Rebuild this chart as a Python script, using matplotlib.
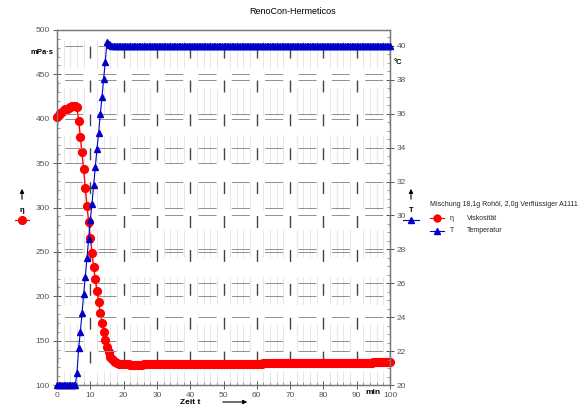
import matplotlib
matplotlib.use('Agg')
import matplotlib.pyplot as plt
from matplotlib.lines import Line2D
from matplotlib.ticker import MultipleLocator

plt.rcParams['font.family'] = ['Liberation Sans', 'DejaVu Sans']
plt.rcParams['lines.scale_dashes'] = False

# time in min, one reading every 0.5 min
t_min = [0, 0.5, 1, 1.5, 2, 2.5, 3, 3.5, 4, 4.5, 5, 5.5, 6, 6.5, 7, 7.5, 8, 8.5, 9, 9.5,
         10, 10.5, 11, 11.5, 12, 12.5, 13, 13.5, 14, 14.5, 15, 15.5, 16, 16.5, 17, 17.5, 18, 18.5, 19, 19.5,
         20, 20.5, 21, 21.5, 22, 22.5, 23, 23.5, 24, 24.5, 25, 25.5, 26, 26.5, 27, 27.5, 28, 28.5, 29, 29.5,
         30, 30.5, 31, 31.5, 32, 32.5, 33, 33.5, 34, 34.5, 35, 35.5, 36, 36.5, 37, 37.5, 38, 38.5, 39, 39.5,
         40, 40.5, 41, 41.5, 42, 42.5, 43, 43.5, 44, 44.5, 45, 45.5, 46, 46.5, 47, 47.5, 48, 48.5, 49, 49.5,
         50, 50.5, 51, 51.5, 52, 52.5, 53, 53.5, 54, 54.5, 55, 55.5, 56, 56.5, 57, 57.5, 58, 58.5, 59, 59.5,
         60, 60.5, 61, 61.5, 62, 62.5, 63, 63.5, 64, 64.5, 65, 65.5, 66, 66.5, 67, 67.5, 68, 68.5, 69, 69.5,
         70, 70.5, 71, 71.5, 72, 72.5, 73, 73.5, 74, 74.5, 75, 75.5, 76, 76.5, 77, 77.5, 78, 78.5, 79, 79.5,
         80, 80.5, 81, 81.5, 82, 82.5, 83, 83.5, 84, 84.5, 85, 85.5, 86, 86.5, 87, 87.5, 88, 88.5, 89, 89.5,
         90, 90.5, 91, 91.5, 92, 92.5, 93, 93.5, 94, 94.5, 95, 95.5, 96, 96.5, 97, 97.5, 98, 98.5, 99, 99.5,
         100]

# viscosity eta in mPa s
eta = [402, 404.5, 406.5, 408, 409.5, 410.5, 411.5, 412.5, 413.5, 414, 414.5, 414.5, 413, 398, 380, 362, 343, 322, 302, 284,
       266, 249, 233, 219, 206, 194, 181, 170, 160, 151, 143, 137, 132, 129, 127, 125.5, 124.5, 124.1, 123.8, 123.6,
       123.4, 123.3, 123.2, 123.1, 123.0, 123.0, 123.0, 123.0, 123.0, 123.0, 123.0, 123.0, 123.1, 123.1, 123.1, 123.1, 123.1, 123.1, 123.2, 123.2,
       123.2, 123.2, 123.2, 123.2, 123.3, 123.3, 123.3, 123.3, 123.3, 123.3, 123.4, 123.4, 123.4, 123.4, 123.4, 123.4, 123.5, 123.5, 123.5, 123.5,
       123.5, 123.5, 123.6, 123.6, 123.6, 123.6, 123.6, 123.6, 123.7, 123.7, 123.7, 123.7, 123.7, 123.7, 123.8, 123.8, 123.8, 123.8, 123.8, 123.8,
       123.9, 123.9, 123.9, 123.9, 123.9, 123.9, 124.0, 124.0, 124.0, 124.0, 124.0, 124.0, 124.1, 124.1, 124.1, 124.1, 124.1, 124.1, 124.2, 124.2,
       124.2, 124.2, 124.2, 124.2, 124.3, 124.3, 124.3, 124.3, 124.3, 124.3, 124.4, 124.4, 124.4, 124.4, 124.4, 124.4, 124.5, 124.5, 124.5, 124.5,
       124.5, 124.5, 124.6, 124.6, 124.6, 124.6, 124.6, 124.6, 124.7, 124.7, 124.7, 124.7, 124.7, 124.7, 124.8, 124.8, 124.8, 124.8, 124.8, 124.8,
       124.9, 124.9, 124.9, 124.9, 124.9, 124.9, 125.0, 125.0, 125.0, 125.0, 125.0, 125.0, 125.1, 125.1, 125.1, 125.1, 125.1, 125.1, 125.2, 125.2,
       125.2, 125.2, 125.2, 125.2, 125.3, 125.3, 125.3, 125.3, 125.3, 125.3, 125.4, 125.4, 125.4, 125.4, 125.4, 125.4, 125.5, 125.5, 125.5, 125.5,
       125.6]

# temperature T in degC
temp = [20.0, 20.0, 20.0, 20.0, 20.0, 20.0, 20.0, 20.0, 20.0, 20.0, 20.0, 20.0, 20.71, 22.18, 23.11, 24.24, 25.34, 26.39, 27.49, 28.59,
        29.74, 30.68, 31.78, 32.83, 33.93, 34.87, 35.97, 36.96, 38.06, 39.06, 40.26, 40.12, 40.05, 40.02, 40.0, 40.0, 40.0, 40.0, 40.0, 40.0,
        40.0, 40.0, 40.0, 40.0, 40.0, 40.0, 40.0, 40.0, 40.0, 40.0, 40.0, 40.0, 40.0, 40.0, 40.0, 40.0, 40.0, 40.0, 40.0, 40.0,
        40.0, 40.0, 40.0, 40.0, 40.0, 40.0, 40.0, 40.0, 40.0, 40.0, 40.0, 40.0, 40.0, 40.0, 40.0, 40.0, 40.0, 40.0, 40.0, 40.0,
        40.0, 40.0, 40.0, 40.0, 40.0, 40.0, 40.0, 40.0, 40.0, 40.0, 40.0, 40.0, 40.0, 40.0, 40.0, 40.0, 40.0, 40.0, 40.0, 40.0,
        40.0, 40.0, 40.0, 40.0, 40.0, 40.0, 40.0, 40.0, 40.0, 40.0, 40.0, 40.0, 40.0, 40.0, 40.0, 40.0, 40.0, 40.0, 40.0, 40.0,
        40.0, 40.0, 40.0, 40.0, 40.0, 40.0, 40.0, 40.0, 40.0, 40.0, 40.0, 40.0, 40.0, 40.0, 40.0, 40.0, 40.0, 40.0, 40.0, 40.0,
        40.0, 40.0, 40.0, 40.0, 40.0, 40.0, 40.0, 40.0, 40.0, 40.0, 40.0, 40.0, 40.0, 40.0, 40.0, 40.0, 40.0, 40.0, 40.0, 40.0,
        40.0, 40.0, 40.0, 40.0, 40.0, 40.0, 40.0, 40.0, 40.0, 40.0, 40.0, 40.0, 40.0, 40.0, 40.0, 40.0, 40.0, 40.0, 40.0, 40.0,
        40.0, 40.0, 40.0, 40.0, 40.0, 40.0, 40.0, 40.0, 40.0, 40.0, 40.0, 40.0, 40.0, 40.0, 40.0, 40.0, 40.0, 40.0, 40.0, 40.0,
        40.0]

RED = '#ff0000'
BLUE = '#0000c8'
TICKC = '#555555'
W, H = 584, 407

fig = plt.figure(figsize=(5.84, 4.07), dpi=100)
ax = fig.add_axes([57 / W, 22 / H, 333 / W, 355 / H])
ax2 = ax.twinx()

ax.set_xlim(0, 100)
ax.set_ylim(100, 500)
ax2.set_ylim(20, 40.94)

# grid: horizontal dashes with gaps around the 10-min verticals
hdash = (18.5, (13, 11))
vdash = (8.6, (8.6, 15.8))
ax.set_axisbelow(True)
ax.xaxis.set_major_locator(MultipleLocator(10))
ax.xaxis.set_minor_locator(MultipleLocator(2))
ax.yaxis.set_major_locator(MultipleLocator(50))
ax.yaxis.set_minor_locator(MultipleLocator(10))
ax2.yaxis.set_major_locator(MultipleLocator(2))
ax2.yaxis.set_minor_locator(MultipleLocator(0.5))
ax.xaxis.grid(True, which='minor', color='#e2e2e2', lw=0.6, linestyle=(10, (20, 14)))
ax.xaxis.grid(True, which='major', color='#444444', lw=1.0, linestyle=vdash)
ax.yaxis.grid(True, which='major', color='#8f8f8f', lw=0.7, linestyle=hdash)
ax2.set_axisbelow(True)
ax2.yaxis.grid(True, which='major', color='#8f8f8f', lw=0.7, linestyle=hdash)

ax.plot(t_min, eta, color=RED, lw=1.0, marker='o', ms=5.6, mec=RED, mfc=RED,
        clip_on=False, zorder=3, snap=False)
ax2.plot(t_min, temp, color=BLUE, lw=0.8, marker='^', ms=4.2, mec=BLUE, mfc=BLUE,
         clip_on=False, zorder=3, snap=False)

for a in (ax, ax2):
    for s in a.spines.values():
        s.set_color('#777777')
        s.set_linewidth(0.9)
    a.tick_params(which='major', direction='inout', length=6, width=0.7, colors='#555555',
                  labelsize=6, labelcolor=TICKC, pad=2)
    a.tick_params(which='minor', direction='in', length=2.5, width=0.5, colors='#777777')

# axis annotations
fig.text(42 / W, 1 - 52 / H, 'mPa·s', fontsize=5.5, fontweight='bold', ha='center', va='center')
fig.text(398 / W, 1 - 63 / H, '°C', fontsize=5.5, fontweight='bold', ha='center', va='center')
fig.text(373 / W, 1 - 393 / H, 'min', fontsize=6, fontweight='bold', ha='center', va='center')
fig.text(190 / W, 1 - 402 / H, 'Zeit t', fontsize=6, fontweight='bold', ha='center', va='center')
fig.text(293 / W, 1 - 12 / H, 'RenoCon-Hermeticos', fontsize=6.5, ha='center', va='center')

arr = dict(arrowstyle='-|>', color='k', lw=0.8, mutation_scale=6)
ax.annotate('', xy=(250 / W, 1 - 402 / H), xytext=(220 / W, 1 - 402 / H),
            xycoords='figure fraction', textcoords='figure fraction', arrowprops=arr)
ax.annotate('', xy=(22 / W, 1 - 186 / H), xytext=(22 / W, 1 - 202 / H),
            xycoords='figure fraction', textcoords='figure fraction', arrowprops=arr)
ax.annotate('', xy=(411 / W, 1 - 186 / H), xytext=(411 / W, 1 - 202 / H),
            xycoords='figure fraction', textcoords='figure fraction', arrowprops=arr)
fig.text(22 / W, 1 - 211 / H, 'η', fontsize=5.5, fontweight='bold', ha='center', va='center')
fig.text(411 / W, 1 - 211 / H, 'T', fontsize=5.5, fontweight='bold', ha='center', va='center')


def key(x, y, color, marker, ms, half=7):
    fx, fy = x / W, 1 - y / H
    fig.add_artist(Line2D([fx - half / W, fx + half / W], [fy, fy], color=color, lw=0.8,
                          transform=fig.transFigure))
    fig.add_artist(Line2D([fx], [fy], color=color, marker=marker, ms=ms, mec=color,
                          mfc=color, transform=fig.transFigure))


key(22, 220, RED, 'o', 5.6)
key(411, 220, BLUE, '^', 4.2, half=8)

# legend block
fig.text(430 / W, 1 - 205 / H, 'Mischung 18,1g Rohöl, 2,0g Verflüssiger A1111', fontsize=5,
         ha='left', va='center', color='#222222')
key(437, 218, RED, 'o', 5.0)
key(437, 231, BLUE, '^', 4.0)
fig.text(452 / W, 1 - 218 / H, 'η', fontsize=5, ha='center', va='center', color='#222222')
fig.text(452 / W, 1 - 231 / H, 'T', fontsize=5, ha='center', va='center', color='#222222')
fig.text(467 / W, 1 - 218 / H, 'Viskosität', fontsize=5, ha='left', va='center', color='#222222')
fig.text(467 / W, 1 - 231 / H, 'Temperatur', fontsize=5, ha='left', va='center', color='#222222')

fig.savefig('out.png', dpi=100)
